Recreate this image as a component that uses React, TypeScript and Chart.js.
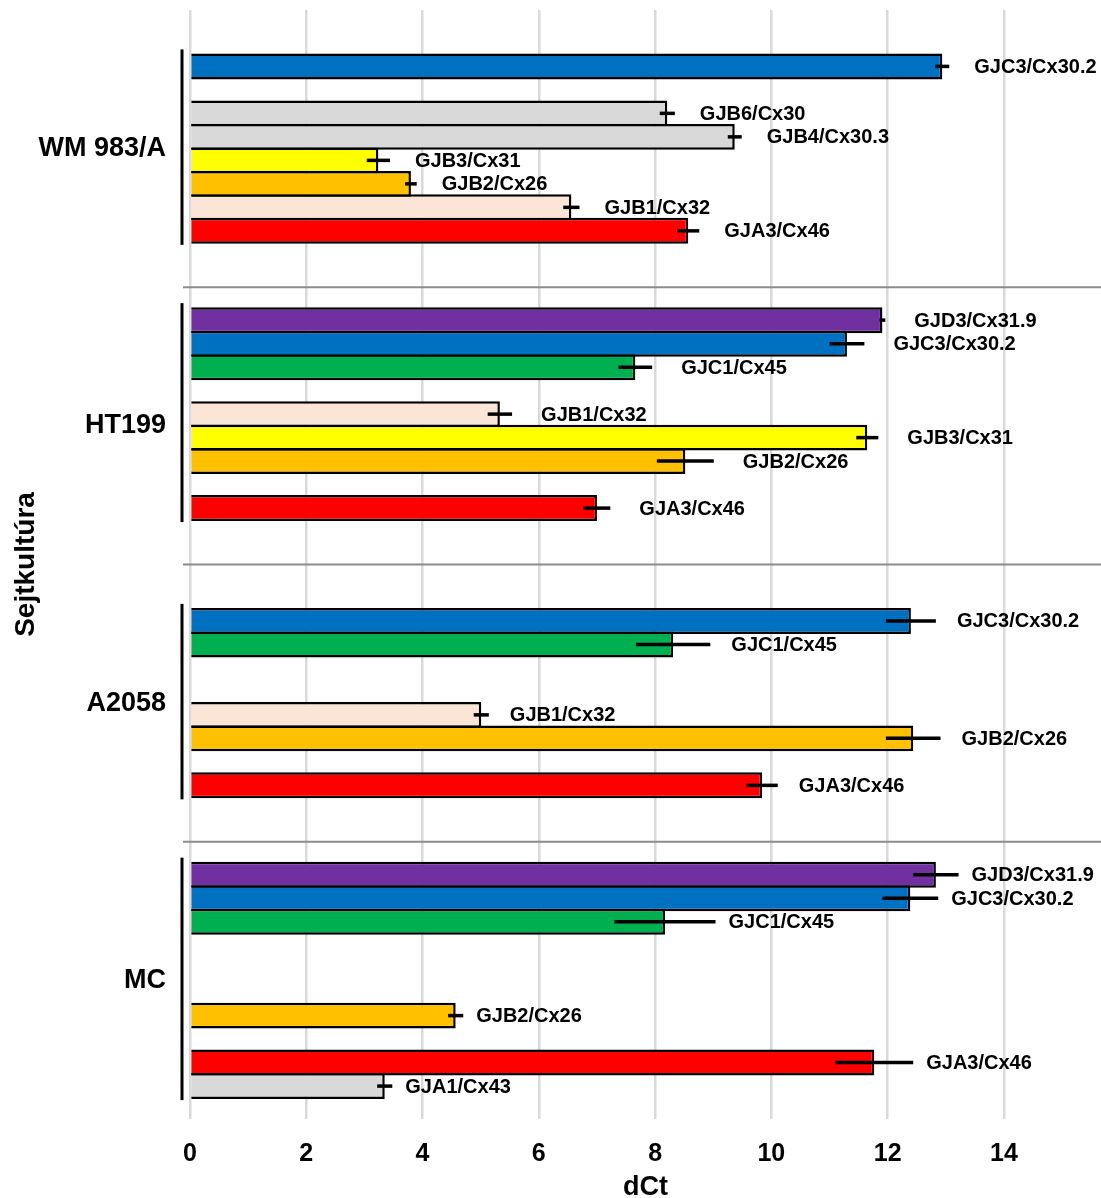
import React, { useEffect, useRef } from "react";
import { Chart, registerables } from "chart.js";

Chart.register(...registerables);

// ---------- DATA ----------
const groups = ["WM 983/A", "HT199", "A2058", "MC"];

// 10 bar slots per cell line (null = empty slot)
const wm983Genes = [null, "GJC3/Cx30.2", null, "GJB6/Cx30", "GJB4/Cx30.3", "GJB3/Cx31", "GJB2/Cx26", "GJB1/Cx32", "GJA3/Cx46", null];
const wm983Values = [null, 12.94, null, 8.21, 9.37, 3.24, 3.8, 6.56, 8.57, null];
const wm983Errors = [null, 0.12, null, 0.13, 0.12, 0.2, 0.1, 0.14, 0.19, null];

const ht199Genes = ["GJD3/Cx31.9", "GJC3/Cx30.2", "GJC1/Cx45", null, "GJB1/Cx32", "GJB3/Cx31", "GJB2/Cx26", null, "GJA3/Cx46", null];
const ht199Values = [11.91, 11.3, 7.66, null, 5.33, 11.65, 8.52, null, 7.0, null];
const ht199Errors = [0.05, 0.3, 0.29, null, 0.21, 0.19, 0.49, null, 0.23, null];

const a2058Genes = [null, "GJC3/Cx30.2", "GJC1/Cx45", null, null, "GJB1/Cx32", "GJB2/Cx26", null, "GJA3/Cx46", null];
const a2058Values = [null, 12.4, 8.31, null, null, 5.01, 12.44, null, 9.84, null];
const a2058Errors = [null, 0.43, 0.64, null, null, 0.13, 0.47, null, 0.27, null];

const mcGenes = ["GJD3/Cx31.9", "GJC3/Cx30.2", "GJC1/Cx45", null, null, null, "GJB2/Cx26", null, "GJA3/Cx46", "GJA1/Cx43"];
const mcValues = [12.83, 12.39, 8.17, null, null, null, 4.57, null, 11.77, 3.35];
const mcErrors = [0.39, 0.48, 0.87, null, null, null, 0.13, null, 0.67, 0.13];

const xTicks = [0, 2, 4, 6, 8, 10, 12, 14];
const xMax = 15.67;

const geneColors: Record<string, string> = {
  "GJD3/Cx31.9": "#7030A0",
  "GJC3/Cx30.2": "#0070C0",
  "GJC1/Cx45": "#00B050",
  "GJB6/Cx30": "#D9D9D9",
  "GJB4/Cx30.3": "#D9D9D9",
  "GJB3/Cx31": "#FFFF00",
  "GJB2/Cx26": "#FFC000",
  "GJB1/Cx32": "#FBE5D6",
  "GJA3/Cx46": "#FF0000",
  "GJA1/Cx43": "#D9D9D9",
};

// label distance (px) after the error bar, per group (style)
const labelGaps = [25, 29, 21, 13];

const FONT = "'Liberation Sans', Arial, sans-serif";

export default function App() {
  const ref = useRef<HTMLCanvasElement | null>(null);

  useEffect(() => {
    if (!ref.current) return;
    const groupGenes = [wm983Genes, ht199Genes, a2058Genes, mcGenes];
    const groupValues = [wm983Values, ht199Values, a2058Values, mcValues];
    const groupErrors = [wm983Errors, ht199Errors, a2058Errors, mcErrors];
    const slotCount = wm983Genes.length;

    const datasets = Array.from({ length: slotCount }, (_, k) => ({
      label: "slot " + (k + 1),
      data: groupValues.map((vals) => vals[k]),
      backgroundColor: groupGenes.map((g) => (g[k] ? geneColors[g[k] as string] : "rgba(0,0,0,0)")),
      borderColor: "#000000",
      borderWidth: 2.5,
      categoryPercentage: 10 / 11.8,
      barPercentage: 1.106,
    }));

    const annotate = {
      id: "annotate",
      beforeDatasetsDraw(chart: any) {
        const { ctx, chartArea, scales } = chart;
        const y = scales.y;
        ctx.save();
        ctx.strokeStyle = "#8c8c8c";
        ctx.lineWidth = 2;
        for (let gi = 1; gi < groups.length; gi++) {
          const py = (y.getPixelForValue(gi - 1) + y.getPixelForValue(gi)) / 2;
          ctx.beginPath();
          ctx.moveTo(chartArea.left - 7, py);
          ctx.lineTo(chartArea.right, py);
          ctx.stroke();
        }
        ctx.restore();
      },
      afterDatasetsDraw(chart: any) {
        const { ctx, chartArea, scales } = chart;
        const x = scales.x;
        ctx.save();
        ctx.font = "bold 20px " + FONT;
        ctx.textBaseline = "middle";
        ctx.textAlign = "left";
        ctx.fillStyle = "#000";
        groups.forEach((_, gi) => {
          let first: any = null;
          let last: any = null;
          for (let k = 0; k < slotCount; k++) {
            const v = groupValues[gi][k];
            if (v == null) continue;
            const el: any = chart.getDatasetMeta(k).data[gi];
            const e = groupErrors[gi][k] as number;
            const x0 = x.getPixelForValue(v - e);
            const x1 = x.getPixelForValue(v + e);
            ctx.strokeStyle = "#000";
            ctx.lineWidth = 3.5;
            ctx.beginPath();
            ctx.moveTo(x0, el.y);
            ctx.lineTo(x1, el.y);
            ctx.stroke();
            ctx.fillText(groupGenes[gi][k] as string, x1 + labelGaps[gi], el.y + 1);
            if (!first) first = el;
            last = el;
          }
          if (first && last) {
            const bx = chartArea.left - 8;
            ctx.strokeStyle = "#000";
            ctx.lineWidth = 3;
            ctx.beginPath();
            ctx.moveTo(bx, first.y - first.height / 2 - 4);
            ctx.lineTo(bx, last.y + last.height / 2 + 1);
            ctx.stroke();
          }
        });
        ctx.restore();
      },
    };

    const chart = new Chart(ref.current, {
      type: "bar",
      data: { labels: groups, datasets: datasets as any },
      options: {
        indexAxis: "y",
        animation: false,
        responsive: false,
        devicePixelRatio: 1,
        layout: { padding: { top: 10, right: 0, bottom: 0, left: 0 } },
        plugins: {
          legend: { display: false },
          tooltip: { enabled: false },
        },
        scales: {
          x: {
            type: "linear",
            min: 0,
            max: xMax,
            afterBuildTicks: (scale: any) => {
              scale.ticks = xTicks.map((v) => ({ value: v }));
            },
            afterFit: (scale: any) => {
              scale.height = 79;
              scale.paddingLeft = 0;
              scale.paddingRight = 0;
            },
            grid: { color: "#d9d9d9", lineWidth: 2.5, drawTicks: false },
            border: { display: false },
            ticks: {
              autoSkip: false,
              color: "#000",
              padding: 20,
              font: { family: FONT, size: 25, weight: "bold" },
            },
            title: {
              display: true,
              text: "dCt",
              color: "#000",
              font: { family: FONT, size: 27, weight: "bold", lineHeight: 1 },
              padding: { top: 0, bottom: -3 },
            },
          },
          y: {
            type: "category",
            afterFit: (scale: any) => {
              scale.width = 190;
              scale.paddingTop = 0;
              scale.paddingBottom = 0;
            },
            grid: { display: false, drawTicks: false },
            border: { display: false },
            ticks: {
              color: "#000",
              padding: 24,
              font: { family: FONT, size: 27, weight: "bold" },
            },
            title: {
              display: true,
              text: "Sejtkultúra",
              color: "#000",
              font: { family: FONT, size: 28, weight: "bold", lineHeight: 1 },
              padding: { top: 12, bottom: 0 },
            },
          },
        },
      } as any,
      plugins: [annotate],
    });

    return () => chart.destroy();
  }, []);

  return (
    <div style={{ position: "absolute", left: 0, top: 0, width: 1101, height: 1198, background: "#fff" }}>
      <canvas ref={ref} width={1101} height={1198} style={{ display: "block", width: 1101, height: 1198 }} />
    </div>
  );
}
